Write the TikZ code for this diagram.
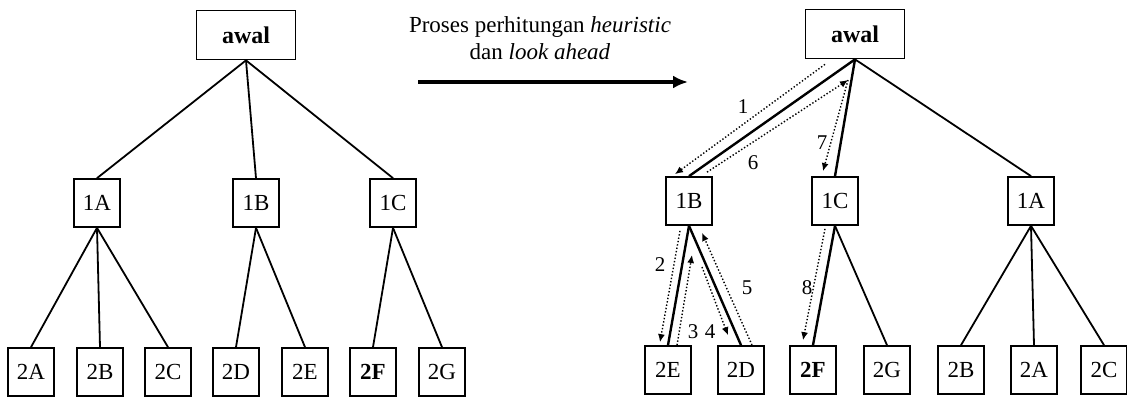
\documentclass[tikz,border=0pt]{standalone}
\usepackage{fontspec}
\setmainfont{Liberation Serif}
\usetikzlibrary{arrows.meta,calc}
\begin{document}
\begin{tikzpicture}[x=1pt,y=-1pt,
  box/.style={draw,line width=1.7pt,minimum width=46pt,minimum height=48pt,inner sep=0pt,font=\fontsize{23}{26}\selectfont},
  topbox/.style={draw,line width=1.7pt,minimum width=99pt,minimum height=49pt,inner sep=0pt,font=\bfseries\fontsize{24}{28}\selectfont},
  edge/.style={line width=1.8pt},
  hot/.style={line width=2.4pt},
  trace/.style={line width=1.4pt,dotted,-{Latex[length=8pt,width=7pt]}},
  num/.style={font=\fontsize{21}{24}\selectfont,inner sep=0pt},
  caption/.style={font=\fontsize{23}{27}\selectfont,align=center,inner sep=0pt}]
\useasboundingbox (0,0) rectangle (1127,399);
% ---------- left tree ----------
\node[topbox] (la) at (246,35) {awal};
\node[box] (l1A) at (97,203) {1A};
\node[box] (l1B) at (256,203) {1B};
\node[box] (l1C) at (393,203) {1C};
\node[box] (l2A) at (31,372) {2A};
\node[box] (l2B) at (100,372) {2B};
\node[box] (l2C) at (168,372) {2C};
\node[box] (l2D) at (236,372) {2D};
\node[box] (l2E) at (305,372) {2E};
\node[box] (l2F) at (373,372) {\bfseries 2F};
\node[box] (l2G) at (442,372) {2G};
\draw[edge] (la.south) -- (l1A.north);
\draw[edge] (la.south) -- (l1B.north);
\draw[edge] (la.south) -- (l1C.north);
\draw[edge] (l1A.south) -- (l2A.north);
\draw[edge] (l1A.south) -- (l2B.north);
\draw[edge] (l1A.south) -- (l2C.north);
\draw[edge] (l1B.south) -- (l2D.north);
\draw[edge] (l1B.south) -- (l2E.north);
\draw[edge] (l1C.south) -- (l2F.north);
\draw[edge] (l1C.south) -- (l2G.north);
% ---------- caption arrow ----------
\node[caption] (cap) at (540,38) {Proses perhitungan \textit{heuristic}\\dan \textit{look ahead}};
\coordinate (arrS) at (418,82);
\coordinate (arrE) at (688,82);
\draw[line width=3.6pt,-{Latex[length=15pt,width=13pt]}] (arrS) -- (arrE);
% ---------- right tree ----------
\node[topbox] (ra) at (855,34) {awal};
\node[box] (rB) at (689,201) {1B};
\node[box] (rC) at (835,201) {1C};
\node[box] (rA) at (1031,201) {1A};
\node[box] (r2E) at (668,370) {2E};
\node[box] (r2D) at (741,370) {2D};
\node[box] (r2F) at (813,370) {\bfseries 2F};
\node[box] (r2G) at (887,370) {2G};
\node[box] (r2B) at (961,370) {2B};
\node[box] (r2A) at (1034,370) {2A};
\node[box] (r2C) at (1104,370) {2C};
\draw[hot] (ra.south) -- (rB.north);
\draw[hot] (ra.south) -- (rC.north);
\draw[edge] (ra.south) -- (rA.north);
\draw[hot] (rB.south) -- (r2E.north);
\draw[hot] (rB.south) -- (r2D.north);
\draw[hot] (rC.south) -- (r2F.north);
\draw[edge] (rC.south) -- (r2G.north);
\draw[edge] (rA.south) -- (r2B.north);
\draw[edge] (rA.south) -- (r2A.north);
\draw[edge] (rA.south) -- (r2C.north);
% trace arrows
\coordinate (t6end) at (848,80);
\coordinate (t3end) at (692,255);
\coordinate (t4start) at (702,267);
\draw[trace] ([xshift=-30pt,yshift=-5pt]ra.south) -- ([xshift=-14pt,yshift=2pt]rB.north);
\draw[trace] ([xshift=18pt,yshift=4pt]rB.north) -- (t6end);
\draw[trace] (t6end) -- ([xshift=-12pt,yshift=5pt]rC.north);
\draw[trace] ([xshift=-9pt,yshift=-5pt]rB.south) -- ([xshift=-8pt,yshift=3pt]r2E.north);
\draw[trace] ([xshift=9pt]r2E.north) -- (t3end);
\draw[trace] (t4start) -- ([xshift=-13pt,yshift=10pt]r2D.north);
\draw[trace] ([xshift=11pt]r2D.north) -- ([xshift=13pt,yshift=-7pt]rB.south);
\draw[trace] ([xshift=-10pt,yshift=-3pt]rC.south) -- ([xshift=-10pt,yshift=5pt]r2F.north);
% step numbers
\node[num] (n1) at (743,107) {1};
\node[num] (n6) at (753,163) {6};
\node[num] (n7) at (822,143) {7};
\node[num] (n2) at (660,265) {2};
\node[num] (n3) at (693,332) {3};
\node[num] (n4) at (710,332) {4};
\node[num] (n5) at (747,288) {5};
\node[num] (n8) at (807,288) {8};
\end{tikzpicture}
\end{document}
